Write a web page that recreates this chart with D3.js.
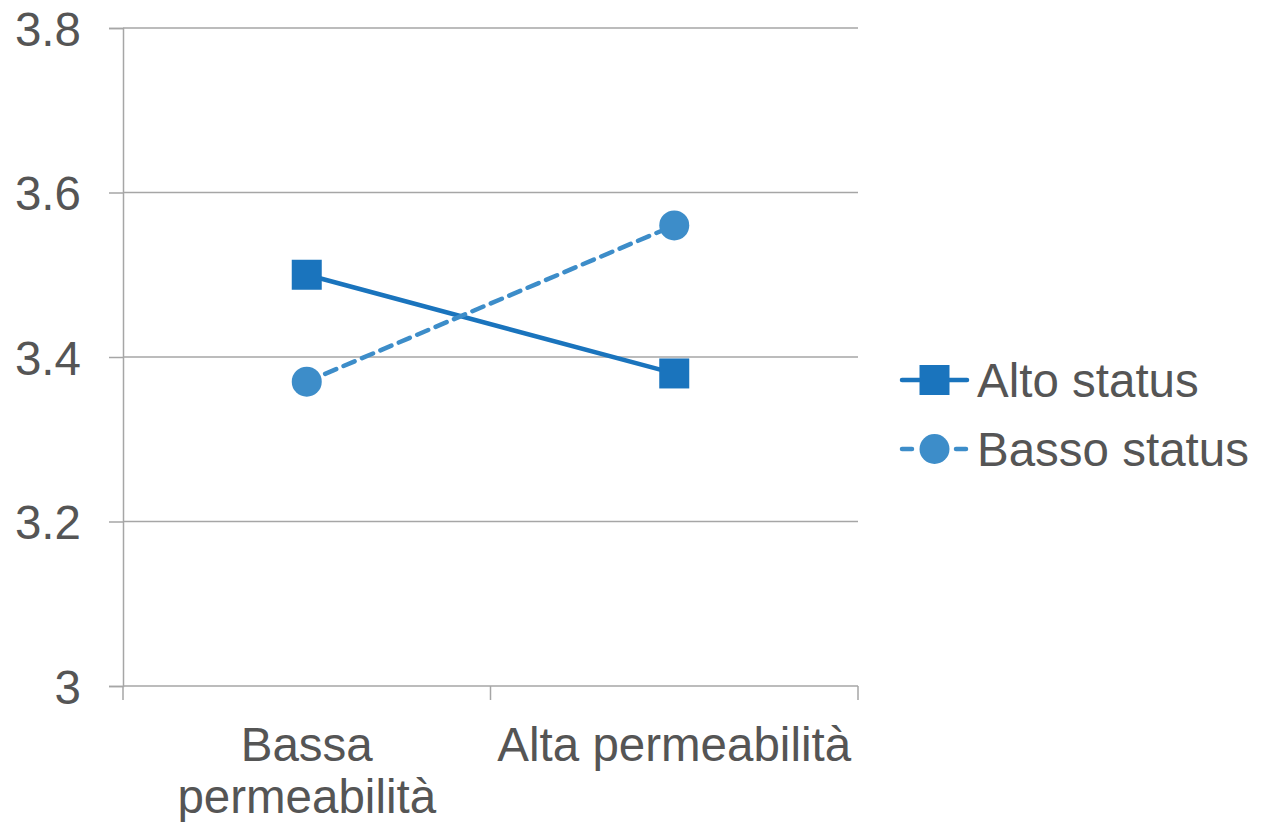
<!DOCTYPE html>
<html>
<head>
<meta charset="utf-8">
<script src="https://cdn.jsdelivr.net/npm/d3@7"></script>
<style>
  html, body { margin: 0; padding: 0; background: #fff; }
  svg { display: block; font-family: "Liberation Sans", Arial, sans-serif; }
</style>
</head>
<body>
<svg id="chart" width="1263" height="822"></svg>
<script>
// Categories on the x axis (each label may wrap onto two lines)
const categories = ["Bassa permeabilità", "Alta permeabilità"];
const categoryLines = [["Bassa", "permeabilità"], ["Alta permeabilità"]];

// Series values
const seriesNames = ["Alto status", "Basso status"];
const altoStatus = [3.5, 3.38];
const bassoStatus = [3.37, 3.56];

// Y tick labels
const yTicks = [3, 3.2, 3.4, 3.6, 3.8];
const yTickLabels = ["3", "3.2", "3.4", "3.6", "3.8"];

const series = [
  { name: seriesNames[0], values: altoStatus, color: "#1a74bd", dash: null, marker: "square" },
  { name: seriesNames[1], values: bassoStatus, color: "#3d8dc9", dash: "12,8", marker: "circle" }
];

const svg = d3.select("#chart");
const plot = { left: 123, right: 858, top: 28, bottom: 686 };
const textColor = "#555555";
const axisColor = "#a6a6a6";
const fontSize = 47.5;

const x = d3.scaleBand().domain(categories).range([plot.left, plot.right]).padding(0);
const y = d3.scaleLinear().domain([3, 3.8]).range([plot.bottom, plot.top]);

// Horizontal gridlines
svg.append("g")
  .selectAll("line")
  .data(yTicks.filter(t => t !== 3))
  .join("line")
  .attr("x1", plot.left).attr("x2", plot.right)
  .attr("y1", d => y(d)).attr("y2", d => y(d))
  .attr("stroke", axisColor).attr("stroke-width", 1.5);

// Y axis
const yAxis = svg.append("g")
  .attr("transform", `translate(${plot.left},0)`)
  .call(d3.axisLeft(y).tickValues(yTicks).tickSize(14).tickPadding(28)
    .tickFormat((d, i) => yTickLabels[i]));
yAxis.select(".domain").attr("stroke", axisColor).attr("stroke-width", 1.5);
yAxis.selectAll(".tick line").attr("stroke", axisColor).attr("stroke-width", 1.5);
yAxis.selectAll(".tick text")
  .attr("fill", textColor)
  .attr("font-size", fontSize)
  .attr("font-family", "Liberation Sans, Arial, sans-serif")
  .attr("dy", "0.36em");

// X axis line and ticks at band edges
const xAxisG = svg.append("g");
xAxisG.append("line")
  .attr("x1", plot.left).attr("x2", plot.right)
  .attr("y1", plot.bottom).attr("y2", plot.bottom)
  .attr("stroke", axisColor).attr("stroke-width", 1.5);
const edges = [plot.left, ...categories.map(c => x(c) + x.bandwidth())];
xAxisG.selectAll("line.tick")
  .data(edges)
  .join("line")
  .attr("class", "tick")
  .attr("x1", d => d).attr("x2", d => d)
  .attr("y1", plot.bottom).attr("y2", plot.bottom + 14)
  .attr("stroke", axisColor).attr("stroke-width", 1.5);

// X category labels
categories.forEach((c, i) => {
  const t = svg.append("text")
    .attr("x", x(c) + x.bandwidth() / 2)
    .attr("y", 761)
    .attr("text-anchor", "middle")
    .attr("fill", textColor)
    .attr("font-size", fontSize);
  categoryLines[i].forEach((line, j) => {
    t.append("tspan")
      .attr("x", x(c) + x.bandwidth() / 2)
      .attr("dy", j === 0 ? 0 : 52)
      .text(line);
  });
});

// Series lines and markers
const lineGen = d3.line()
  .x((d, i) => x(categories[i]) + x.bandwidth() / 2)
  .y(d => y(d));

function drawMarker(g, type, cx, cy, color) {
  if (type === "square") {
    g.append("rect")
      .attr("x", cx - 15).attr("y", cy - 15)
      .attr("width", 30).attr("height", 30)
      .attr("fill", color);
  } else {
    g.append("circle")
      .attr("cx", cx).attr("cy", cy).attr("r", 15)
      .attr("fill", color);
  }
}

series.forEach(s => {
  const g = svg.append("g");
  g.append("path")
    .datum(s.values)
    .attr("d", lineGen)
    .attr("fill", "none")
    .attr("stroke", s.color)
    .attr("stroke-width", 4.5)
    .attr("stroke-linecap", "round")
    .attr("stroke-dasharray", s.dash);
  s.values.forEach((v, i) => {
    drawMarker(g, s.marker, x(categories[i]) + x.bandwidth() / 2, y(v), s.color);
  });
});

// Legend
const legend = svg.append("g");
series.forEach((s, i) => {
  const cy = 380 + i * 69;
  const g = legend.append("g");
  g.append("line")
    .attr("x1", 902).attr("x2", 967)
    .attr("y1", cy).attr("y2", cy)
    .attr("stroke", s.color)
    .attr("stroke-width", 4.5)
    .attr("stroke-linecap", "round")
    .attr("stroke-dasharray", s.dash ? "10,44,10" : null);
  drawMarker(g, s.marker, 934.5, cy, s.color);
  g.append("text")
    .attr("x", 977)
    .attr("y", cy)
    .attr("dy", "0.36em")
    .attr("fill", textColor)
    .attr("font-size", fontSize)
    .text(s.name);
});
</script>
</body>
</html>
